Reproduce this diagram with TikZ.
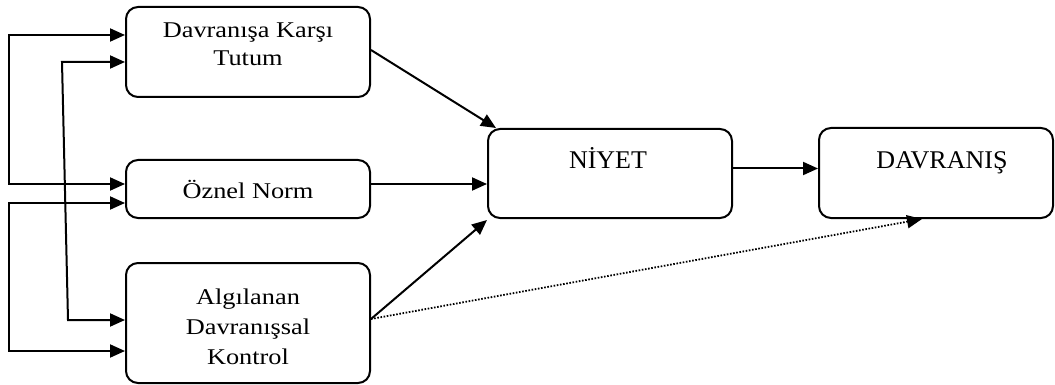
\documentclass[tikz,border=0pt]{standalone}
\usepackage{fontspec}
\setmainfont{Liberation Serif}
\newfontfamily\boxfont[FakeStretch=1.17]{Liberation Serif}
\newfontfamily\headfont[FakeStretch=1.02]{Liberation Serif}
\usetikzlibrary{arrows.meta}
\tikzset{
  box/.style={draw=black,line width=2pt,rounded corners=12pt,inner sep=0pt,fill=white},
  lbl/.style={align=center,inner sep=0pt,font=\boxfont\fontsize{22.5}{28}\selectfont},
  headlbl/.style={inner sep=0pt,anchor=base,font=\headfont\fontsize{25.5}{30}\selectfont},
  arr/.style={line width=2pt,-{Triangle[length=15pt,width=13pt]}},
  biarr/.style={line width=2pt,{Triangle[length=15pt,width=13pt]}-{Triangle[length=15pt,width=13pt]}},
  dotarr/.style={line width=1.8pt,dash pattern=on 1.6pt off 1.6pt,-{Triangle[length=15pt,width=13pt]}},
}

\begin{document}
\begin{tikzpicture}[x=1pt,y=-1pt]
        \useasboundingbox (0,0) rectangle (1055,385);
        % boxes
        \node[box,minimum width=244pt,minimum height=90pt] (tutum) at (248,52) {};
        \node[box,minimum width=244pt,minimum height=58pt] (norm) at (248,189) {};
        \node[box,minimum width=244pt,minimum height=120pt] (kontrol) at (248,323) {};
        \node[box,minimum width=244pt,minimum height=89pt] (niyet) at (610,173.5) {};
        \node[box,minimum width=234pt,minimum height=90pt] (davranis) at (936,173) {};
        % texts
        \node[lbl] (tutumtxt) at (248,44) {Davranışa Karşı\\Tutum};
        \node[lbl,anchor=base] (normtxt) at (248,198) {Öznel Norm};
        \node[lbl,font=\boxfont\fontsize{22.5}{30}\selectfont] (kontroltxt) at (248,327) {Algılanan\\Davranışsal\\Kontrol};
        \node[headlbl] (niyettxt) at (608,168) {NİYET};
        \node[headlbl] (davranistxt) at (942,168) {DAVRANIŞ};
        % feedback lines on the left
        \coordinate (a1) at (9,35);
        \coordinate (a2) at (9,184);
        \coordinate (b1) at (62,62);
        \coordinate (b2) at (68,320);
        \coordinate (c1) at (9,203);
        \coordinate (c2) at (9,351);
        \draw[biarr] (tutum.west |- a1) -- (a1) -- (a2) -- (norm.west |- a2);
        \draw[biarr] (tutum.west |- b1) -- (b1) -- (b2) -- (kontrol.west |- b2);
        \draw[biarr] (norm.west |- c1) -- (c1) -- (c2) -- (kontrol.west |- c2);
        % into intention
        \draw[arr] ([yshift=2pt]tutum.east) -- ([xshift=9pt]niyet.north west);
        \draw[arr] ([yshift=5pt]norm.east) -- ([yshift=5pt]norm.east -| niyet.west);
        \draw[arr] ([yshift=4pt]kontrol.east) -- ([yshift=-1pt]niyet.south west);
        \draw[dotarr] ([yshift=4pt]kontrol.east) -- ([xshift=-14pt]davranis.south);
        \draw[arr] ([yshift=5pt]niyet.east) -- ([yshift=5pt]niyet.east -| davranis.west);
\end{tikzpicture}
\end{document}
